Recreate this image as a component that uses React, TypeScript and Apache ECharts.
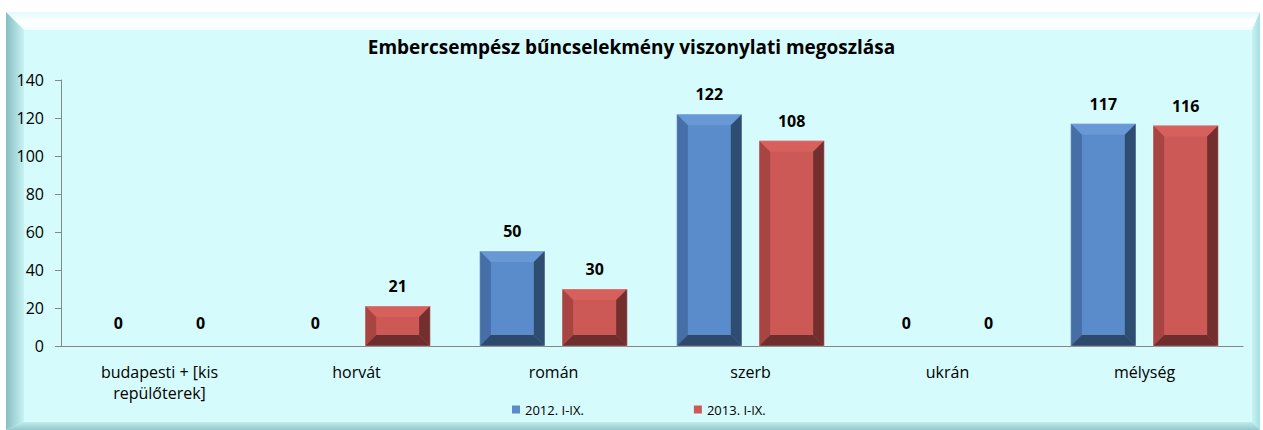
import React, { useEffect, useRef } from "react";
import * as echarts from "echarts";

const categories = ["budapesti + [kis\nrepülőterek]", "horvát", "román", "szerb", "ukrán", "mélység"];
const seriesNames = ["2012. I-IX.", "2013. I-IX."];
const values2012 = [0, 0, 50, 122, 0, 117];
const values2013 = [0, 21, 30, 108, 0, 116];
const yTicks = { min: 0, max: 140, interval: 20 };

const FONT = "'Open Sans', Lato, sans-serif";

const palettes = [
  { face: "#5a8bcb", top: "#6898d6", left: "#456fa6", right: "#2f4d70", bottom: "#2d4a6c" },
  { face: "#cd5957", top: "#d6605c", left: "#a84542", right: "#722f2e", bottom: "#6d2e2d" },
];

function makeRender(s: number) {
  return (params: any, api: any) => {
    const idx = api.value(0);
    const val = api.value(1);
    const top = api.coord([idx, val]);
    const base = api.coord([idx, 0]);
    const catW = api.size([1, 0])[0];
    const bw = catW * 0.33;
    const gap = catW * 0.088;
    const x0 = s === 0 ? top[0] - gap / 2 - bw : top[0] + gap / 2;
    const x1 = x0 + bw;
    const y0 = top[1];
    const y1 = base[1];
    const h = y1 - y0;
    const p = palettes[s];
    const children: any[] = [];
    if (h > 0.5) {
      const b = Math.min(11, h / 2, bw / 2);
      children.push({ type: "rect", shape: { x: x0, y: y0, width: bw, height: h }, style: { fill: p.face } });
      children.push({ type: "polygon", shape: { points: [[x0, y0], [x1, y0], [x1 - b, y0 + b], [x0 + b, y0 + b]] }, style: { fill: p.top } });
      children.push({ type: "polygon", shape: { points: [[x0, y0], [x0 + b, y0 + b], [x0 + b, y1 - b], [x0, y1]] }, style: { fill: p.left } });
      children.push({ type: "polygon", shape: { points: [[x1, y0], [x1, y1], [x1 - b, y1 - b], [x1 - b, y0 + b]] }, style: { fill: p.right } });
      children.push({ type: "polygon", shape: { points: [[x0, y1], [x0 + b, y1 - b], [x1 - b, y1 - b], [x1, y1]] }, style: { fill: p.bottom } });
      children.push({ type: "rect", shape: { x: x0, y: y0, width: bw, height: h }, style: { fill: "none", stroke: "rgba(255,255,255,0.25)", lineWidth: 1 } });
    }
    children.push({
      type: "text",
      style: {
        text: String(val),
        x: x0 + bw / 2,
        y: y0 - (h > 0.5 ? 20 : 23),
        align: "center",
        verticalAlign: "middle",
        fill: "#000",
        font: `bold 16px ${FONT}`,
      },
    });
    return { type: "group", children };
  };
}

export default function App() {
  const ref = useRef<HTMLDivElement>(null);
  useEffect(() => {
    if (!ref.current) return;
    const chart = echarts.init(ref.current, null, { renderer: "svg" });
    const fx0 = 6, fy0 = 12, fx1 = 1260, fy1 = 430;
    chart.setOption({
      animation: false,
      backgroundColor: "#ffffff",
      graphic: [
        { type: "rect", z: -10, shape: { x: fx0, y: fy0, width: fx1 - fx0, height: fy1 - fy0 }, style: { fill: "#d6fbfc" } },
        {
          type: "polygon", z: -9,
          shape: { points: [[fx0, fy0], [fx1, fy0], [fx1 - 8, fy0 + 18], [fx0 + 18, fy0 + 18]] },
          style: { fill: new echarts.graphic.LinearGradient(0, 0, 0, 1, [{ offset: 0, color: "#e2fafa" }, { offset: 0.5, color: "#ffffff" }, { offset: 1, color: "#f4fefe" }]) },
        },
        {
          type: "polygon", z: -9,
          shape: { points: [[fx0, fy0], [fx0 + 18, fy0 + 18], [fx0 + 18, fy1 - 8], [fx0, fy1]] },
          style: { fill: new echarts.graphic.LinearGradient(0, 0, 1, 0, [{ offset: 0, color: "#86bfc1" }, { offset: 1, color: "#c8f2f3" }]) },
        },
        {
          type: "polygon", z: -9,
          shape: { points: [[fx1, fy0], [fx1, fy1], [fx1 - 8, fy1 - 8], [fx1 - 8, fy0 + 18]] },
          style: { fill: new echarts.graphic.LinearGradient(0, 0, 1, 0, [{ offset: 0, color: "#c6f4f5" }, { offset: 1, color: "#a8dfe0" }]) },
        },
        {
          type: "polygon", z: -9,
          shape: { points: [[fx0, fy1], [fx0 + 18, fy1 - 8], [fx1 - 8, fy1 - 8], [fx1, fy1]] },
          style: { fill: new echarts.graphic.LinearGradient(0, 0, 0, 1, [{ offset: 0, color: "#bfeced" }, { offset: 1, color: "#94c9cb" }]) },
        },
      ],
      title: {
        text: "Embercsempész bűncselekmény viszonylati megoszlása",
        left: "center",
        top: 32,
        textStyle: { fontFamily: FONT, fontSize: 19, fontWeight: "bold", color: "#000" },
      },
      legend: {
        data: seriesNames,
        left: 507,
        top: 398,
        itemWidth: 8,
        itemHeight: 8,
        itemGap: 110,
        icon: "rect",
        textStyle: { fontFamily: FONT, fontSize: 13, color: "#000" },
      },
      grid: { left: 61, right: 20, top: 80, bottom: 84 },
      xAxis: {
        type: "category",
        data: categories,
        axisLine: { lineStyle: { color: "#868686", width: 1 } },
        axisTick: { show: false },
        axisLabel: { fontFamily: FONT, fontSize: 16, color: "#000", margin: 15, lineHeight: 21, interval: 0 },
      },
      yAxis: {
        type: "value",
        min: yTicks.min,
        max: yTicks.max,
        interval: yTicks.interval,
        splitLine: { show: false },
        axisLine: { show: true, lineStyle: { color: "#868686", width: 1 } },
        axisTick: { show: true, length: 6, lineStyle: { color: "#868686" } },
        axisLabel: { fontFamily: FONT, fontSize: 16, color: "#000", margin: 17 },
      },
      series: [
        {
          name: seriesNames[0],
          type: "custom",
          renderItem: makeRender(0),
          itemStyle: { color: palettes[0].face },
          encode: { x: 0, y: 1 },
          data: values2012.map((v, i) => [i, v]),
        },
        {
          name: seriesNames[1],
          type: "custom",
          renderItem: makeRender(1),
          itemStyle: { color: palettes[1].face },
          encode: { x: 0, y: 1 },
          data: values2013.map((v, i) => [i, v]),
        },
      ],
    });
    return () => chart.dispose();
  }, []);
  return <div ref={ref} style={{ position: "absolute", left: 0, top: 0, width: 1263, height: 430 }} />;
}
